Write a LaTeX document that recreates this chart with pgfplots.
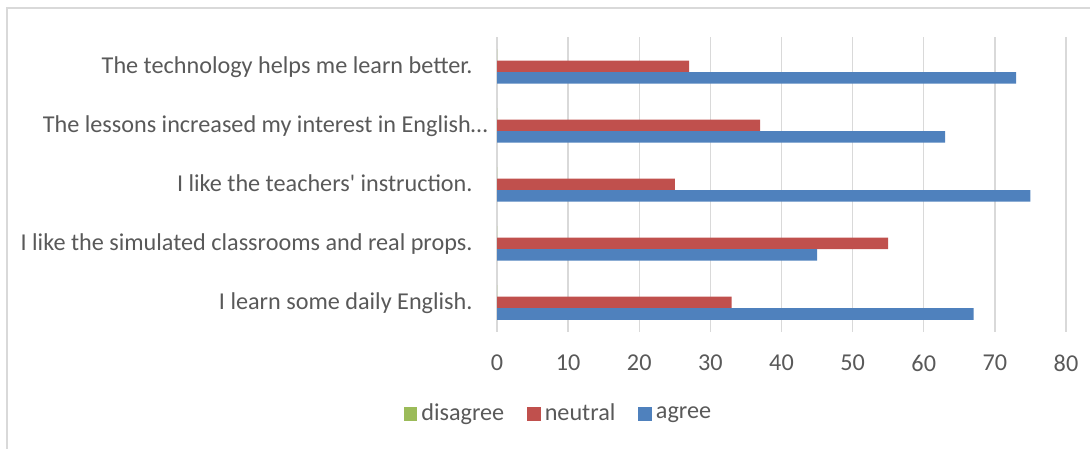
\documentclass[border=0pt]{standalone}
\usepackage{pgfplots}
\pgfplotsset{compat=1.18}
\usepackage{fontspec}
\setmainfont{Carlito}
\definecolor{txt}{HTML}{595959}
\definecolor{grd}{HTML}{D9D9D9}
\definecolor{cred}{HTML}{C0504D}
\definecolor{cblue}{HTML}{4F81BD}
\definecolor{cgreen}{HTML}{9BBB59}
\newcommand{\lf}{\fontsize{24.2bp}{28bp}\selectfont}
\begin{document}
\begin{tikzpicture}[x=1bp,y=1bp]
\useasboundingbox (0,0) rectangle (1090,449);
\draw[grd, line width=1.5bp] (7,0) -- (7,441) -- (1090,441);
\begin{axis}[
  at={(497bp,117bp)}, anchor=south west,
  scale only axis, width=569bp, height=295bp,
  xbar, xmin=0, xmax=80, ymin=-0.5, ymax=4.5,
  xtick={0,10,...,80}, ytick={0,1,2,3,4},
  yticklabels={I learn some daily English.\hspace*{15bp},
               I like the simulated classrooms and real props.\hspace*{15bp},
               I like the teachers\textquotesingle\ instruction.\hspace*{15bp},
               The lessons increased my interest in English\ldots,
               The technology helps me learn better.\hspace*{15bp}},
  bar width=0.195,
  axis line style={draw=none},
  tick style={draw=none},
  xmajorgrids,
  major grid style={grd, line width=1.3bp},
  /pgf/number format/assume math mode=true,
  ticklabel style={font=\lf, text=txt},
  xticklabel style={anchor=north, inner sep=0pt, yshift=-23bp},
  yticklabel style={anchor=base east, inner sep=0pt, xshift=-5bp, yshift=-6.8bp},
  legend style={draw=none, fill=none, font=\lf, text=txt,
    at={(0.1098,-0.2746)}, anchor=center, legend columns=3,
    /tikz/every even column/.append style={column sep=19bp},
    nodes={inner xsep=4bp, inner ysep=0pt}},
  legend image code/.code={\fill[#1,draw=none] (0bp,-7.5bp) rectangle (13.5bp,6bp);},
]
\addplot[fill=cgreen, draw=none, bar shift=0.195] coordinates {(0,0) (0,1) (0,2) (0,3) (0,4)};
\addplot[fill=cred, draw=none, bar shift=0] coordinates {(33,0) (55,1) (25,2) (37,3) (27,4)};
\addplot[fill=cblue, draw=none, bar shift=-0.195] coordinates {(67,0) (45,1) (75,2) (63,3) (73,4)};
\legend{disagree, neutral, agree}
\end{axis}
\end{tikzpicture}
\end{document}
